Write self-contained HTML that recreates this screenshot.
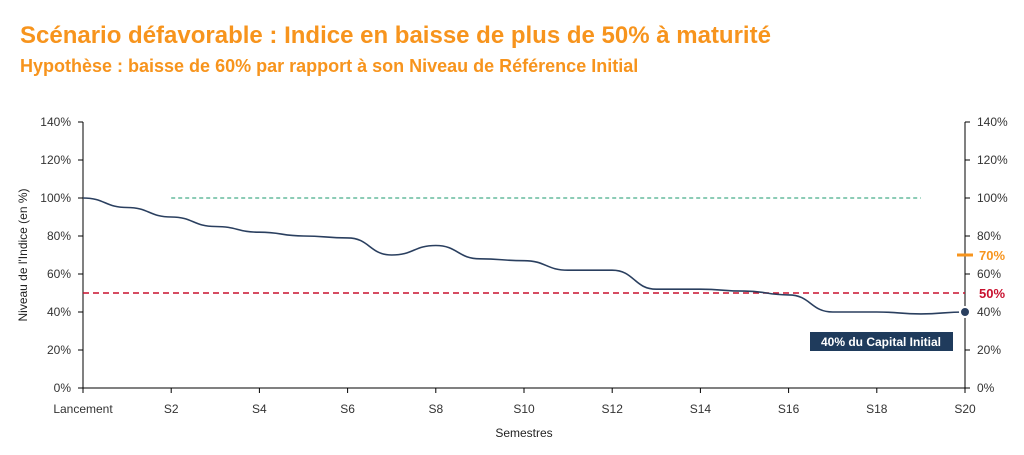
<!DOCTYPE html>
<html><head><meta charset="utf-8"><style>
body{margin:0;width:1024px;height:450px;background:#fff;overflow:hidden;font-family:"Liberation Sans",sans-serif}
svg text{font-family:"Liberation Sans",sans-serif}
</style></head><body>
<svg id="c" width="1024" height="450">
<text x="20" y="43" font-size="24" font-weight="bold" fill="#f7941d">Scénario défavorable : Indice en baisse de plus de 50% à maturité</text>
<text x="20" y="72" font-size="18" font-weight="bold" fill="#f7941d">Hypothèse : baisse de 60% par rapport à son Niveau de Référence Initial</text>
<text transform="translate(27,255) rotate(-90)" text-anchor="middle" font-size="12" fill="#222">Niveau de l'Indice (en %)</text>
<text x="524" y="437" text-anchor="middle" font-size="12" fill="#222">Semestres</text>
</svg>
<script>
const categories=["Lancement","S1","S2","S3","S4","S5","S6","S7","S8","S9","S10","S11","S12","S13","S14","S15","S16","S17","S18","S19","S20"];
const indexValues=[100,95,90,85,82,80,79,70,75,68,67,62,62,52,52,51,49,40,40,39,40];
const yTicks=[0,20,40,60,80,100,120,140];
const barrierCapital=50, barrierCoupon=100, couponLevel=70, finalLevel=40;
const NS="http://www.w3.org/2000/svg", svg=document.getElementById('c');
const X0=83,X1=965,Y0=388,Y1=122;
const x=i=>X0+(X1-X0)*i/(categories.length-1);
const y=v=>Y0-(Y0-Y1)*v/140;
function mk(t,a,p){const e=document.createElementNS(NS,t);for(const k in a)e.setAttribute(k,a[k]);(p||svg).appendChild(e);return e;}
let e=mk('line',{x1:X0,y1:Y1,x2:X0,y2:Y0,stroke:'#000'});


e=mk('line',{x1:X1,y1:Y1,x2:X1,y2:Y0,stroke:'#000'});


e=mk('line',{x1:X0,y1:Y0,x2:X1,y2:Y0,stroke:'#000'});


yTicks.forEach(v=>{
 mk('line',{x1:X0-5,x2:X0,y1:y(v),y2:y(v),stroke:'#000'});
 mk('line',{x1:X1,x2:X1+5,y1:y(v),y2:y(v),stroke:'#000'});
 let t=mk('text',{x:X0-12,y:y(v)+4,'text-anchor':'end','font-size':12,fill:'#333'});t.textContent=v+'%';
 
 
 t=mk('text',{x:X1+12,y:y(v)+4,'font-size':12,fill:'#333'});t.textContent=v+'%';
 
 
});
categories.forEach((c,i)=>{
 if(i%2)return;
 mk('line',{x1:x(i),x2:x(i),y1:Y0,y2:Y0+5,stroke:'#000'});
 const t=mk('text',{x:x(i),y:Y0+25,'text-anchor':'middle','font-size':12,fill:'#333'});t.textContent=c;
 
 
});
e=mk('line',{x1:x(2),x2:x(19),y1:y(barrierCoupon),y2:y(barrierCoupon),stroke:'#1a9a6c','stroke-dasharray':'4 3'});


e=mk('line',{x1:X0,x2:X1,y1:y(barrierCapital),y2:y(barrierCapital),stroke:'#c8102e','stroke-width':1.5,'stroke-dasharray':'6 4'});


let d='M'+x(0)+','+y(indexValues[0]);
for(let i=1;i<indexValues.length;i++){const xm=(x(i-1)+x(i))/2;d+=` C${xm},${y(indexValues[i-1])} ${xm},${y(indexValues[i])} ${x(i)},${y(indexValues[i])}`;}
e=mk('path',{d:d,fill:'none',stroke:'#2a3f5f','stroke-width':1.6});


e=mk('circle',{cx:X1,cy:y(finalLevel),r:5,fill:'#2a3f5f',stroke:'#fff','stroke-width':2});


e=mk('line',{x1:X1-8,x2:X1+8,y1:y(couponLevel),y2:y(couponLevel),stroke:'#f7941d','stroke-width':3});


e=mk('text',{x:X1+14,y:y(couponLevel)+5,'font-size':13,'font-weight':'bold',fill:'#f7941d'});e.textContent=couponLevel+'%';


e=mk('text',{x:X1+14,y:y(barrierCapital)+5,'font-size':13,'font-weight':'bold',fill:'#c8102e'});e.textContent=barrierCapital+'%';


const g=mk('g',{});


mk('rect',{x:810,y:332,width:143,height:19,fill:'#1f3b5c'},g);
const at=mk('text',{x:881,y:346,'text-anchor':'middle','font-size':12,'font-weight':'bold',fill:'#fff'},g);at.textContent=finalLevel+'% du Capital Initial';
</script>
</body></html>
